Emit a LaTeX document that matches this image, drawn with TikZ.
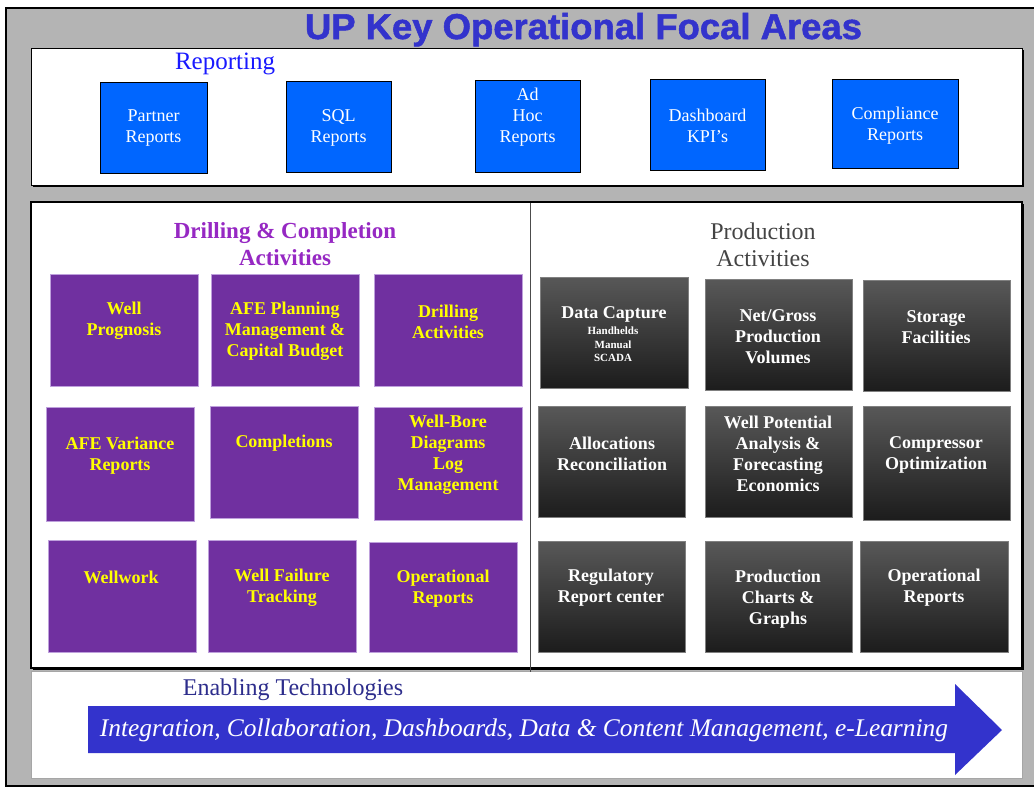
\documentclass[tikz,border=0pt]{standalone}
\usepackage{fontspec}
\setmainfont{Liberation Serif}
\newfontfamily\titlefont[BoldFeatures={FakeBold=1.5}]{Liberation Sans}
\usepackage{tikz}
\usetikzlibrary{positioning}
\definecolor{framegrey}{RGB}{180, 180, 180}
\definecolor{repblue}{RGB}{0, 102, 255}
\definecolor{labelblue}{RGB}{25, 25, 255}
\definecolor{titleblue}{RGB}{51, 51, 204}
\definecolor{techblue}{RGB}{45, 45, 140}
\definecolor{drillpurple}{RGB}{112, 48, 160}
\definecolor{drilledge}{RGB}{190, 160, 220}
\definecolor{headpurple}{RGB}{150, 40, 195}
\definecolor{drillyellow}{RGB}{255, 255, 0}
\definecolor{prodtop}{RGB}{88, 88, 88}
\definecolor{prodbot}{RGB}{28, 28, 28}
\definecolor{prodhead}{RGB}{68, 68, 68}

\begin{document}
\begin{tikzpicture}[x=1pt, y=-1pt,
  repbox/.style={draw=black, fill=repblue, minimum height=91, inner sep=0},
  reptext/.style={text=white, align=center, font=\fontsize{18}{21}\selectfont},
  drillbox/.style={draw=drilledge, fill=drillpurple, minimum width=148, minimum height=112, inner sep=0},
  drilltext/.style={text=drillyellow, align=center, font=\bfseries\fontsize{18}{21}\selectfont},
  prodbox/.style={draw=gray, top color=prodtop, bottom color=prodbot, minimum width=147, minimum height=111, inner sep=0},
  prodtext/.style={text=white, align=center, font=\bfseries\fontsize{18}{21}\selectfont},
  heading/.style={align=center, font=\fontsize{24}{27}\selectfont}]

  \useasboundingbox (0, 0) rectangle (1034, 788);

  % frame and panels
  \draw[fill=framegrey, line width=1.5] (6, 8) rectangle (1045, 786);
  \fill[black] (33, 50) rectangle (1024, 187);
  \draw[fill=white, line width=1] (31, 48) rectangle (1022, 185);
  \fill[black] (33, 204) rectangle (1024, 670);
  \draw[fill=white, line width=1.5] (31, 202) rectangle (1022, 668);
  \draw[gray!70, fill=white] (31, 671) rectangle (1022, 778);
  \draw[gray!60!black, line width=1] (530, 203) -- (530, 672);

  \node[anchor=base, text=titleblue] (title) at (583.5, 39)
  {\resizebox{557pt}{26pt}{\titlefont\bfseries UP Key Operational Focal Areas}};

  % reporting
  \node[text=labelblue, font=\fontsize{25}{28}\selectfont] (reporting) at (225, 64) {Reporting};
  \node[repbox, minimum width=107] (partner) at (153.5, 127.5) {};
  \node[repbox, minimum width=105] (sql) at (338.5, 127) {};
  \node[repbox, minimum width=105, minimum height=92] (adhoc) at (527.5, 126) {};
  \node[repbox, minimum width=115] (dashboard) at (707.5, 124.5) {};
  \node[repbox, minimum width=126, minimum height=89] (compliance) at (895, 123.5) {};
  \node[reptext] (partnertext) at (153.5, 128.5) {Partner\\Reports};
  \node[reptext] (sqltext) at (338.5, 127.5) {SQL\\Reports};
  \node[reptext] (adhoctext) at (527.5, 117) {Ad\\Hoc\\Reports};
  \node[reptext] (dashboardtext) at (707.5, 126) {Dashboard\\KPI's};
  \node[reptext] (compliancetext) at (895, 125.5) {Compliance\\Reports};

  % drilling & completion
  \node[heading, text=headpurple, font=\bfseries\fontsize{23}{27}\selectfont] (drillhead) at (285, 244.5)
  {Drilling \& Completion\\Activities};
  \node[drillbox] (prognosis) at (124.5, 330) {};
  \node[drillbox] (afeplan) at (285.5, 330) {};
  \node[drillbox] (drilling) at (448, 330) {};
  \node[drillbox, minimum height=114] (variance) at (120.5, 464) {};
  \node[drillbox] (completions) at (284, 462) {};
  \node[drillbox, minimum height=113] (wellbore) at (448, 463.5) {};
  \node[drillbox] (wellwork) at (122.5, 596.5) {};
  \node[drillbox] (failure) at (282, 596.5) {};
  \node[drillbox, minimum height=110] (drillreports) at (443, 597) {};
  \node[drilltext] (prognosistext) at (124, 320.5) {Well\\Prognosis};
  \node[drilltext] (afeplantext) at (285, 331) {AFE Planning\\Management \&\\Capital Budget};
  \node[drilltext] (drillingtext) at (448, 322) {Drilling\\Activities};
  \node[drilltext] (variancetext) at (120, 456) {AFE Variance\\Reports};
  \node[drilltext] (completionstext) at (284, 443) {Completions};
  \node[drilltext] (wellboretext) at (448, 455) {Well-Bore\\Diagrams\\Log\\Management};
  \node[drilltext] (wellworktext) at (121, 577) {Wellwork};
  \node[drilltext] (failuretext) at (282, 587.5) {Well Failure\\Tracking};
  \node[drilltext] (drillreportstext) at (443, 588.5) {Operational\\Reports};

  % production
  \node[heading, text=prodhead] (prodhead) at (763, 244.5) {Production\\Activities};
  \node[prodbox, minimum width=148] (capture) at (614, 332.5) {};
  \node[prodbox] (netgross) at (778.5, 335) {};
  \node[prodbox] (storage) at (936.5, 335.5) {};
  \node[prodbox] (allocations) at (611.5, 462) {};
  \node[prodbox] (potential) at (778.5, 462) {};
  \node[prodbox, minimum height=114] (compressor) at (936.5, 463) {};
  \node[prodbox] (regulatory) at (611.5, 596.5) {};
  \node[prodbox] (charts) at (778.5, 597) {};
  \node[prodbox, minimum width=148] (prodreports) at (934, 596.5) {};
  \node[prodtext] (capturetext) at (614, 314) {Data Capture};
  \node[prodtext, font=\bfseries\fontsize{11}{13.5}\selectfont] (capturesub) at (613, 344.5)
  {Handhelds\\Manual\\SCADA};
  \node[prodtext] (netgrosstext) at (778, 336.5) {Net/Gross\\Production\\Volumes};
  \node[prodtext] (storagetext) at (936, 327) {Storage\\Facilities};
  \node[prodtext] (allocationstext) at (612, 454) {Allocations\\Reconciliation};
  \node[prodtext] (potentialtext) at (778, 454) {Well Potential\\Analysis \&\\Forecasting\\Economics};
  \node[prodtext] (compressortext) at (936, 454.5) {Compressor\\Optimization};
  \node[prodtext] (regulatorytext) at (611, 587.5) {Regulatory\\Report center};
  \node[prodtext] (chartstext) at (778, 599) {Production\\Charts \&\\Graphs};
  \node[prodtext] (prodreportstext) at (934, 587.5) {Operational\\Reports};

  % enabling technologies
  \node[text=techblue, font=\fontsize{24}{27}\selectfont] (enabling) at (293, 690) {Enabling Technologies};
  \fill[titleblue] (88, 706) -- (955, 706) -- (955, 684) -- (1002, 730)
  -- (955, 775) -- (955, 753) -- (88, 753) -- cycle;
  \node[text=white] (techlist) at (524, 730)
  {\resizebox{848pt}{!}{\itshape Integration, Collaboration, Dashboards, Data \& Content Management, e-Learning}};

\end{tikzpicture}
\end{document}
